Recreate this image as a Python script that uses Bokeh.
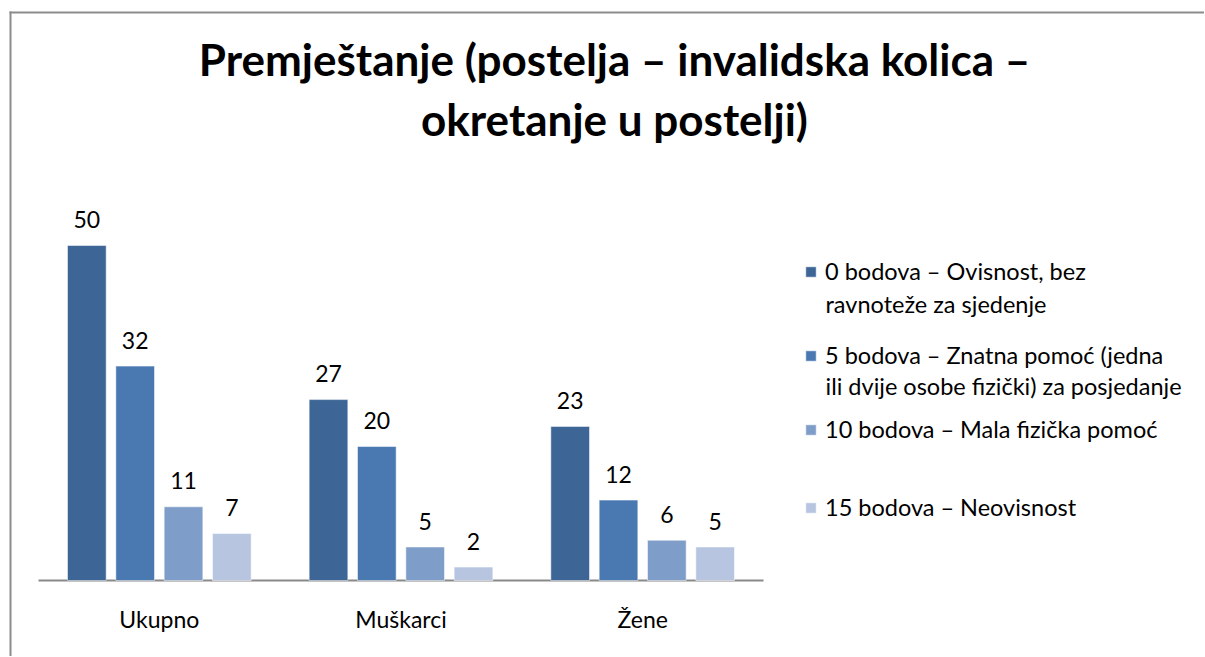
from bokeh.plotting import figure
from bokeh.models import ColumnDataSource, Range1d, Label, Legend, LegendItem
from bokeh.core.properties import value
from bokeh.embed import file_html
from bokeh.resources import INLINE

# ---------------- data ----------------
categories = ["Ukupno", "Muškarci", "Žene"]
series_names = [
    "0 bodova – Ovisnost, bez\nravnoteže za sjedenje",
    "5 bodova – Znatna pomoć (jedna\nili dvije osobe fizički) za posjedanje",
    "10 bodova – Mala fizička pomoć",
    "15 bodova – Neovisnost",
]
s0 = [50, 27, 23]
s1 = [32, 20, 12]
s2 = [11, 5, 6]
s3 = [7, 2, 5]
title_lines = ["Premještanje (postelja – invalidska kolica –", "okretanje u postelji)"]

# ---------------- style / layout ----------------
colors = ["#3D6596", "#4A79B2", "#7F9DC9", "#B7C5E1"]
FONT = "Lato"
W, H = 1204, 656
X0, XW = 38.0, 725.0 / 3.0      # plot area left (px) and width of one category (px)
Y0, YS = 580.0, 6.7             # baseline (px) and px per unit

def dx(px):
    return (px - X0) / XW

def dy(py):
    return (Y0 - py) / YS

series = [s0, s1, s2, s3]
idx = list(range(len(categories)))
offsets = [-0.3, -0.1, 0.1, 0.3]
data = {"cat": categories, "xc": [i + 0.5 for i in idx]}
for i, s in enumerate(series):
    data[f"x{i}"] = [j + 0.5 + offsets[i] for j in idx]
    data[f"s{i}"] = s
    data[f"l{i}"] = [str(v) for v in s]
src = ColumnDataSource(data)

p = figure(x_range=Range1d(dx(0), dx(W)), y_range=Range1d(dy(H), dy(0)),
           width=W, height=H, output_backend="svg", toolbar_location=None,
           x_axis_type=None, y_axis_type=None,
           min_border=0, min_border_left=0, min_border_right=0,
           min_border_top=0, min_border_bottom=0)
p.outline_line_color = None
p.grid.visible = False
p.background_fill_color = "white"
p.border_fill_color = "white"

# chart border (top and left edges of the chart area), kept inside the canvas
p.segment(x0=[dx(9), dx(10)], x1=[dx(W - 0.5), dx(10)],
          y0=[dy(12), dy(11)], y1=[dy(12), dy(H - 0.5)],
          line_color="#8c8c8c", line_width=2)

# baseline (category axis line) across the category span
p.segment(x0=[0], x1=[len(categories)], y0=[0], y1=[0], line_color="#898989",
          line_width=2)

renderers = []
for i in range(4):
    r = p.vbar(x=f"x{i}", top=f"s{i}", bottom=0, width=0.16, source=src,
               fill_color=colors[i], line_color="white", line_alpha=0.5, line_width=1)
    renderers.append(r)
    p.text(x=f"x{i}", y=f"s{i}", text=f"l{i}", source=src, text_align="center",
           text_baseline="alphabetic", y_offset=-26, text_font=value(FONT),
           text_font_size="23px", text_color="#000000")

# category labels
p.text(x="xc", y=0, text="cat", source=src, text_align="center",
       text_baseline="alphabetic", y_offset=38, text_font=value(FONT),
       text_font_size="23px", text_color="#000000")

# title
for txt, base in zip(title_lines, [58, 118]):
    p.add_layout(Label(x=dx(614), y=dy(base), text=txt, text_align="center",
                       text_baseline="alphabetic", text_font=FONT,
                       text_font_size="44px", text_font_style="bold",
                       text_color="#000000"))

# legend: one legend per entry, continuation lines as labels
LEG_FS = "23.5px"
first_line_y = [272, 356, 430, 508]
cont_line_y = [303, 385, None, None]
for i in range(4):
    lines = series_names[i].split("\n")
    leg = Legend(items=[LegendItem(label=lines[0], renderers=[renderers[i]])],
                 location=(804, H - (first_line_y[i] + 13)),
                 padding=0, margin=0, spacing=0, border_line_color=None,
                 background_fill_alpha=0, glyph_width=13, glyph_height=13,
                 label_height=26, label_standoff=8, label_text_font=FONT,
                 label_text_font_size=LEG_FS, label_text_color="#000000",
                 label_text_baseline="middle")
    p.add_layout(leg, "center")
    for ln in lines[1:]:
        p.add_layout(Label(x=dx(825), y=dy(cont_line_y[i]), text=ln,
                           text_align="left", text_baseline="middle",
                           text_font=FONT, text_font_size=LEG_FS,
                           text_color="#000000"))

open("out.html", "w").write(file_html(p, INLINE))
